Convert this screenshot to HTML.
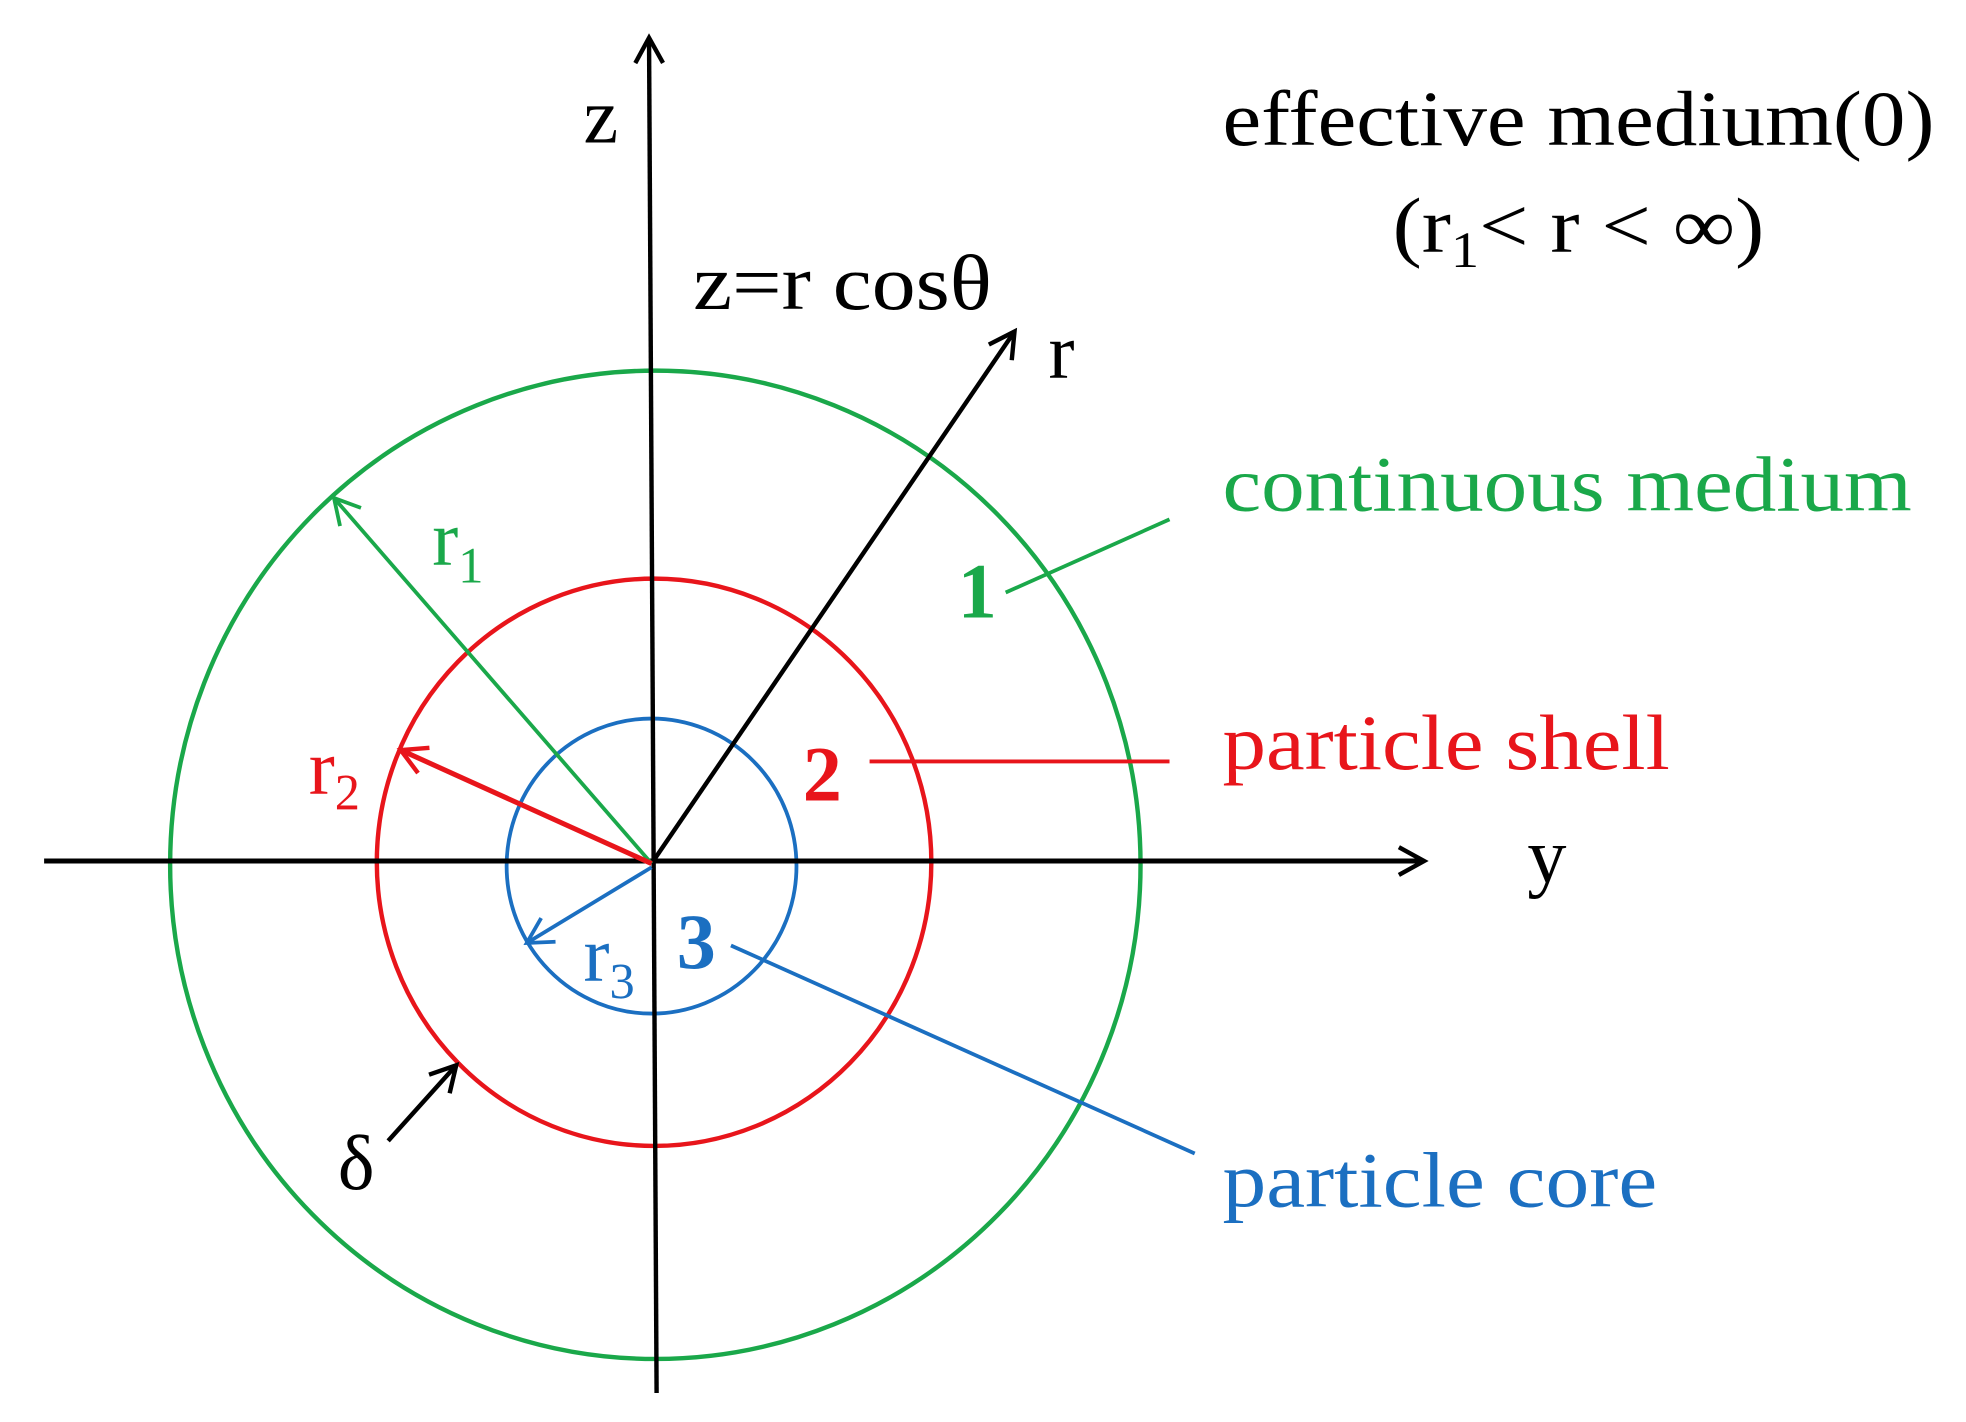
<!DOCTYPE html>
<html><head><meta charset="utf-8"><style>html,body{margin:0;padding:0;background:#fff}svg{display:block}text{font-family:"Liberation Serif","Times New Roman",serif}</style></head>
<body>
<svg width="1966" height="1422" viewBox="0 0 1560 1128" preserveAspectRatio="none" xmlns="http://www.w3.org/2000/svg">
<defs>
<marker id="ak2" markerWidth="26" markerHeight="26" refX="22" refY="13" orient="auto" markerUnits="userSpaceOnUse"><path d="M2,2 L22,13 L2,24" fill="none" stroke="#000" stroke-width="3.5"/></marker>
<marker id="ag" markerWidth="26" markerHeight="26" refX="22" refY="13" orient="auto" markerUnits="userSpaceOnUse"><path d="M2,2 L22,13 L2,24" fill="none" stroke="#1aa84a" stroke-width="3"/></marker>
<marker id="ar" markerWidth="26" markerHeight="26" refX="22" refY="13" orient="auto" markerUnits="userSpaceOnUse"><path d="M2,2 L22,13 L2,24" fill="none" stroke="#e8151b" stroke-width="3.5"/></marker>
<marker id="ab" markerWidth="26" markerHeight="26" refX="22" refY="13" orient="auto" markerUnits="userSpaceOnUse"><path d="M2,2 L22,13 L2,24" fill="none" stroke="#1b6fc1" stroke-width="3"/></marker>
</defs>
<ellipse cx="520" cy="686" rx="385" ry="392" fill="none" stroke="#1aa84a" stroke-width="3.5"/>
<ellipse cx="519" cy="684" rx="220" ry="225" fill="none" stroke="#e8151b" stroke-width="3.5"/>
<ellipse cx="517" cy="687" rx="115" ry="117" fill="none" stroke="#1b6fc1" stroke-width="3"/>
<line x1="35" y1="683" x2="1130" y2="683" stroke="#000" stroke-width="4" marker-end="url(#ak2)"/>
<line x1="521" y1="1105" x2="515" y2="30" stroke="#000" stroke-width="3.5" marker-end="url(#ak2)"/>
<line x1="517" y1="685" x2="805" y2="263" stroke="#000" stroke-width="3.5" marker-end="url(#ak2)"/>
<line x1="517" y1="685" x2="265" y2="395" stroke="#1aa84a" stroke-width="3" marker-end="url(#ag)"/>
<line x1="517" y1="685" x2="318" y2="595" stroke="#e8151b" stroke-width="4" marker-end="url(#ar)"/>
<line x1="517" y1="688" x2="418" y2="748" stroke="#1b6fc1" stroke-width="3" marker-end="url(#ab)"/>
<line x1="308" y1="905" x2="362" y2="845" stroke="#000" stroke-width="3.5" marker-end="url(#ak2)"/>
<line x1="798" y1="470" x2="928" y2="412" stroke="#1aa84a" stroke-width="3"/>
<line x1="690" y1="604" x2="928" y2="604" stroke="#e8151b" stroke-width="3"/>
<line x1="580" y1="750" x2="948" y2="915" stroke="#1b6fc1" stroke-width="3"/>
<g font-size="62">
<text x="463" y="113">z</text>
<text x="970" y="115" textLength="565" lengthAdjust="spacingAndGlyphs">effective medium(0)</text>
<text x="1105" y="200" textLength="295" lengthAdjust="spacingAndGlyphs">(r<tspan font-size="40" dy="12">1</tspan><tspan dy="-12">&lt; r &lt; ∞)</tspan></text>
<text x="550" y="245" textLength="237" lengthAdjust="spacingAndGlyphs">z=r cosθ</text>
<text x="832" y="300">r</text>
<text x="970" y="405" fill="#1aa84a" textLength="547" lengthAdjust="spacingAndGlyphs">continuous medium</text>
<text x="760" y="490" fill="#1aa84a" font-weight="bold">1</text>
<text x="343" y="448" fill="#1aa84a">r<tspan font-size="40" dy="14">1</tspan></text>
<text x="245" y="630" fill="#e8151b">r<tspan font-size="40" dy="12">2</tspan></text>
<text x="637" y="635" fill="#e8151b" font-weight="bold">2</text>
<text x="970" y="610" fill="#e8151b" textLength="355" lengthAdjust="spacingAndGlyphs">particle shell</text>
<text x="1212" y="700">y</text>
<text x="537" y="768" fill="#1b6fc1" font-weight="bold">3</text>
<text x="463" y="778" fill="#1b6fc1">r<tspan font-size="40" dy="14">3</tspan></text>
<text x="268" y="943">δ</text>
<text x="970" y="957" fill="#1b6fc1" textLength="345" lengthAdjust="spacingAndGlyphs">particle core</text>
</g>
</svg>
</body></html>
